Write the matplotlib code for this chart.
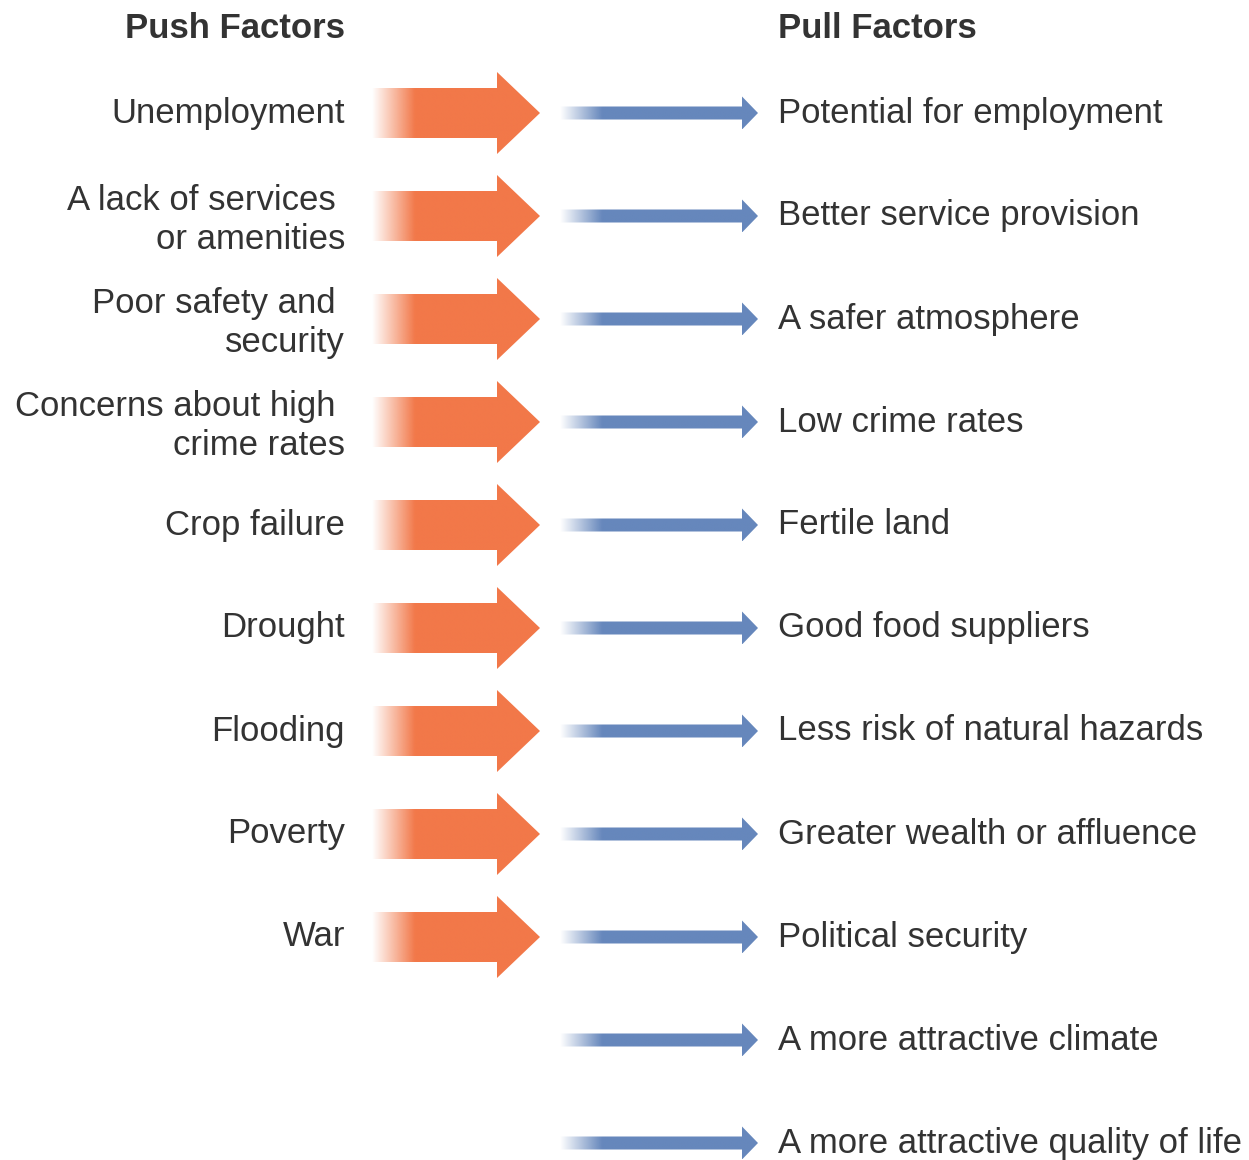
import numpy as np
import matplotlib.pyplot as plt
import matplotlib.colors as mcolors
from matplotlib.patches import Polygon

# Diagram content
push_labels = [
    'Unemployment',
    'A lack of services \nor amenities',
    'Poor safety and \nsecurity',
    'Concerns about high \ncrime rates',
    'Crop failure',
    'Drought',
    'Flooding',
    'Poverty',
    'War',
]
pull_labels = [
    'Potential for employment',
    'Better service provision',
    'A safer atmosphere',
    'Low crime rates',
    'Fertile land',
    'Good food suppliers',
    'Less risk of natural hazards',
    'Greater wealth or affluence',
    'Political security',
    'A more attractive climate',
    'A more attractive quality of life',
]
headers = ['Push Factors', 'Pull Factors']

ORANGE = '#F27849'
BLUE = '#6687BC'
TEXT = '#333333'
plt.rcParams['font.family'] = ['Liberation Sans', 'DejaVu Sans']

fig = plt.figure(figsize=(12.49, 11.6), dpi=100)
ax = fig.add_axes([0, 0, 1, 1])


def gradient_arrow(ax, x0, fade, xh, tip, yc, body, head, color):
    # arrow outline, filled by a horizontal fade-in image clipped to it
    pts = [(x0, yc - body), (xh, yc - body), (xh, yc - head), (tip, yc),
           (xh, yc + head), (xh, yc + body), (x0, yc + body)]
    poly = Polygon(pts, closed=True, facecolor='none', edgecolor='none')
    ax.add_patch(poly)
    n = 300
    xs = np.linspace(x0, tip, n)
    rgba = np.zeros((1, n, 4))
    rgba[..., :3] = mcolors.to_rgb(color)
    rgba[..., 3] = np.clip((xs - x0) / (fade - x0), 0, 1)
    im = ax.imshow(rgba, extent=(x0, tip, yc + head, yc - head),
                   aspect='auto', interpolation='bilinear')
    im.set_clip_path(poly)


row_y = 113 + 103 * np.arange(len(pull_labels))

for i, label in enumerate(push_labels):
    gradient_arrow(ax, 372, 415, 497, 540, row_y[i], 25, 41, ORANGE)
    dy = 4 if '\n' in label else 0
    ax.text(345, row_y[i] + dy, label, ha='right', va='center',
            multialignment='right', fontsize=25, color=TEXT)

for i, label in enumerate(pull_labels):
    gradient_arrow(ax, 560, 602, 742, 758, row_y[i], 6.5, 16.5, BLUE)
    ax.text(778, row_y[i], label, ha='left', va='center',
            fontsize=25, color=TEXT)

ax.text(345, 28, headers[0], ha='right', va='center', fontsize=25,
        fontweight='bold', color=TEXT)
ax.text(778, 28, headers[1], ha='left', va='center', fontsize=25,
        fontweight='bold', color=TEXT)

ax.set_xlim(0, 1249)
ax.set_ylim(1160, 0)
ax.axis('off')

fig.savefig('out.png', dpi=100)
